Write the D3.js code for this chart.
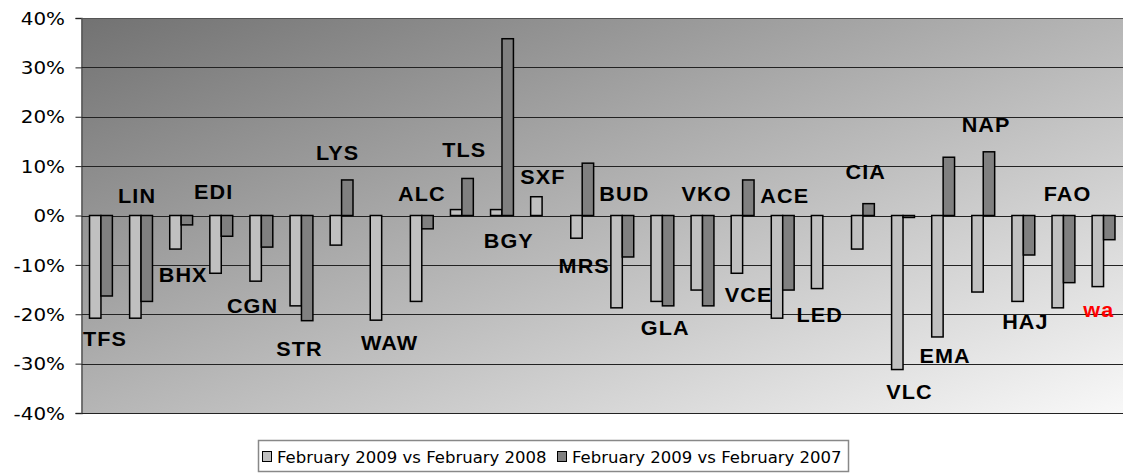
<!DOCTYPE html>
<html>
<head>
<meta charset="utf-8">
<script src="https://cdn.jsdelivr.net/npm/d3@7"></script>
<style>
  body { margin: 0; background: #fff; }
  svg text { font-family: "DejaVu Sans", Verdana, sans-serif; }
</style>
</head>
<body>
<div id="chart"></div>
<script>
// airport codes, one per group
const airports = ["TFS", "LIN", "BHX", "EDI", "CGN", "STR", "LYS", "WAW", "ALC", "TLS",
  "BGY", "SXF", "MRS", "BUD", "GLA", "VKO", "VCE", "ACE", "LED", "CIA",
  "VLC", "EMA", "NAP", "HAJ", "FAO", "wa"];

const seriesNames = ["February 2009 vs February 2008", "February 2009 vs February 2007"];

// % change (null = no bar)
const vs2008 = [-20.8, -20.8, -6.8, -11.7, -13.3, -18.3, -6.0, -21.2, -17.4, 1.2,
  1.2, 3.8, -4.6, -18.7, -17.4, -15.1, -11.7, -20.8, -14.8, -6.8,
  -31.2, -24.6, -15.5, -17.4, -18.7, -14.4];
const vs2007 = [-16.3, -17.4, -1.9, -4.2, -6.4, -21.3, 7.2, null, -2.7, 7.5,
  35.8, null, 10.6, -8.4, -18.3, -18.3, 7.2, -15.1, null, 2.4,
  -0.4, 11.8, 12.9, -8.0, -13.6, -4.9];

// where each hand-placed data label sits, in % on the value axis
const labelAt = [-26.4, 2.6, -13.4, 3.3, -19.8, -28.4, 11.2, -27.2, 3.0, 11.8,
  -6.5, 6.4, -11.7, 3.0, -24.2, 3.0, -17.5, 2.6, -21.5, 7.4,
  -37.2, -29.8, 17.0, -23.0, 3.0, -20.6];
// sideways nudge of each label, as a share of one category step
const labelNudge = [0.1, -0.1, 0.05, -0.19, -0.22, -0.05, -0.1, 0.2, 0, 0.06,
  0.17, 0.02, 0.05, 0.05, 0.07, 0.1, 0.15, 0.05, -0.08, 0.07,
  0.16, 0.05, 0.07, 0.05, 0.1, -0.12];

const yTicks = [-40, -30, -20, -10, 0, 10, 20, 30, 40];

const width = 1124, height = 473;
const margin = { top: 18, right: 1, bottom: 60, left: 81.5 };
const colors = ["#c0c0c0", "#808080"];
const stretch = 1.17; // the original picture is a bit wider than tall

const svg = d3.select("#chart").append("svg")
  .attr("width", width)
  .attr("height", height);

const defs = svg.append("defs");
const grad = defs.append("linearGradient")
  .attr("id", "bg")
  .attr("x1", 0).attr("y1", 0).attr("x2", 1).attr("y2", 1);
grad.append("stop").attr("offset", "0%").attr("stop-color", "#727272");
grad.append("stop").attr("offset", "100%").attr("stop-color", "#f8f8f8");

const x0 = d3.scaleBand()
  .domain(airports)
  .range([margin.left, width - margin.right])
  .paddingInner(0.43)
  .paddingOuter(0.2);

const x1 = d3.scaleBand()
  .domain([0, 1])
  .range([0, x0.bandwidth()]);

const y = d3.scaleLinear()
  .domain([-40, 40])
  .range([height - margin.bottom, margin.top]);

// plot background
svg.append("rect")
  .attr("x", margin.left)
  .attr("y", margin.top)
  .attr("width", width - margin.right - margin.left)
  .attr("height", y(-40) - y(40))
  .attr("fill", "url(#bg)");

// tick labels
svg.append("g")
  .attr("transform", `translate(${margin.left},0)`)
  .call(d3.axisLeft(y)
    .tickValues(yTicks)
    .tickFormat(d => d + "%")
    .tickSize(6))
  .call(g => g.select(".domain").attr("stroke", "#555").attr("stroke-width", 1.5))
  .call(g => g.selectAll(".tick line").attr("stroke", "#222"))
  .call(g => g.selectAll(".tick text")
    .attr("x", 0)
    .attr("transform", `translate(-16.5,0) scale(${stretch},1)`)
    .attr("fill", "#000")
    .style("font-size", "17px")
    .attr("dy", "0.36em"));

// gridlines
svg.append("g")
  .selectAll("line")
  .data(yTicks)
  .join("line")
  .attr("x1", margin.left)
  .attr("x2", width - margin.right)
  .attr("y1", d => Math.round(y(d)) + 0.5)
  .attr("y2", d => Math.round(y(d)) + 0.5)
  .attr("stroke", d => d === 40 ? "#555" : "#222")
  .attr("stroke-width", 1);

// bars
const rows = airports.map((a, i) => ({ code: a, vals: [vs2008[i], vs2007[i]] }));

const groups = svg.append("g")
  .selectAll("g")
  .data(rows)
  .join("g")
  .attr("transform", d => `translate(${x0(d.code)},0)`);

groups.selectAll("rect")
  .data(d => d.vals.map((v, k) => ({ k, v })).filter(e => e.v !== null))
  .join("rect")
  .attr("x", d => x1(d.k))
  .attr("width", x1.bandwidth())
  .attr("y", d => y(Math.max(0, d.v)))
  .attr("height", d => Math.abs(y(d.v) - y(0)))
  .attr("fill", d => colors[d.k])
  .attr("stroke", "#000")
  .attr("stroke-width", 1.5);

// data labels (airport codes)
const step = x0.step();
svg.append("g")
  .selectAll("text")
  .data(airports)
  .join("text")
  .attr("transform", (d, i) => {
    const cx = x0(d) + x0.bandwidth() / 2 + labelNudge[i] * step;
    return `translate(${cx},${y(labelAt[i])}) scale(1.08,1)`;
  })
  .attr("text-anchor", "middle")
  .style("font-family", "'Liberation Sans', Arial, sans-serif")
  .style("font-weight", "bold")
  .style("font-size", "20px")
  .style("letter-spacing", "1px")
  .attr("fill", d => d === "wa" ? "#ff0000" : "#000")
  .text(d => d);

// legend
const legend = svg.append("g").attr("id", "legend");
legend.append("rect")
  .attr("x", 258.5)
  .attr("y", 440.5)
  .attr("width", 590)
  .attr("height", 31)
  .attr("fill", "#fff")
  .attr("stroke", "#888")
  .attr("stroke-width", 1.5);

const legendX = [262, 557];
seriesNames.forEach((name, i) => {
  legend.append("rect")
    .attr("x", legendX[i] + 0.5)
    .attr("y", 451.5)
    .attr("width", 9)
    .attr("height", 10)
    .attr("fill", colors[i])
    .attr("stroke", "#000")
    .attr("stroke-width", 1);
  legend.append("text")
    .attr("x", legendX[i] + 15)
    .attr("y", 463)
    .style("font-size", "16.5px")
    .attr("fill", "#000")
    .text(name);
});
</script>
</body>
</html>
